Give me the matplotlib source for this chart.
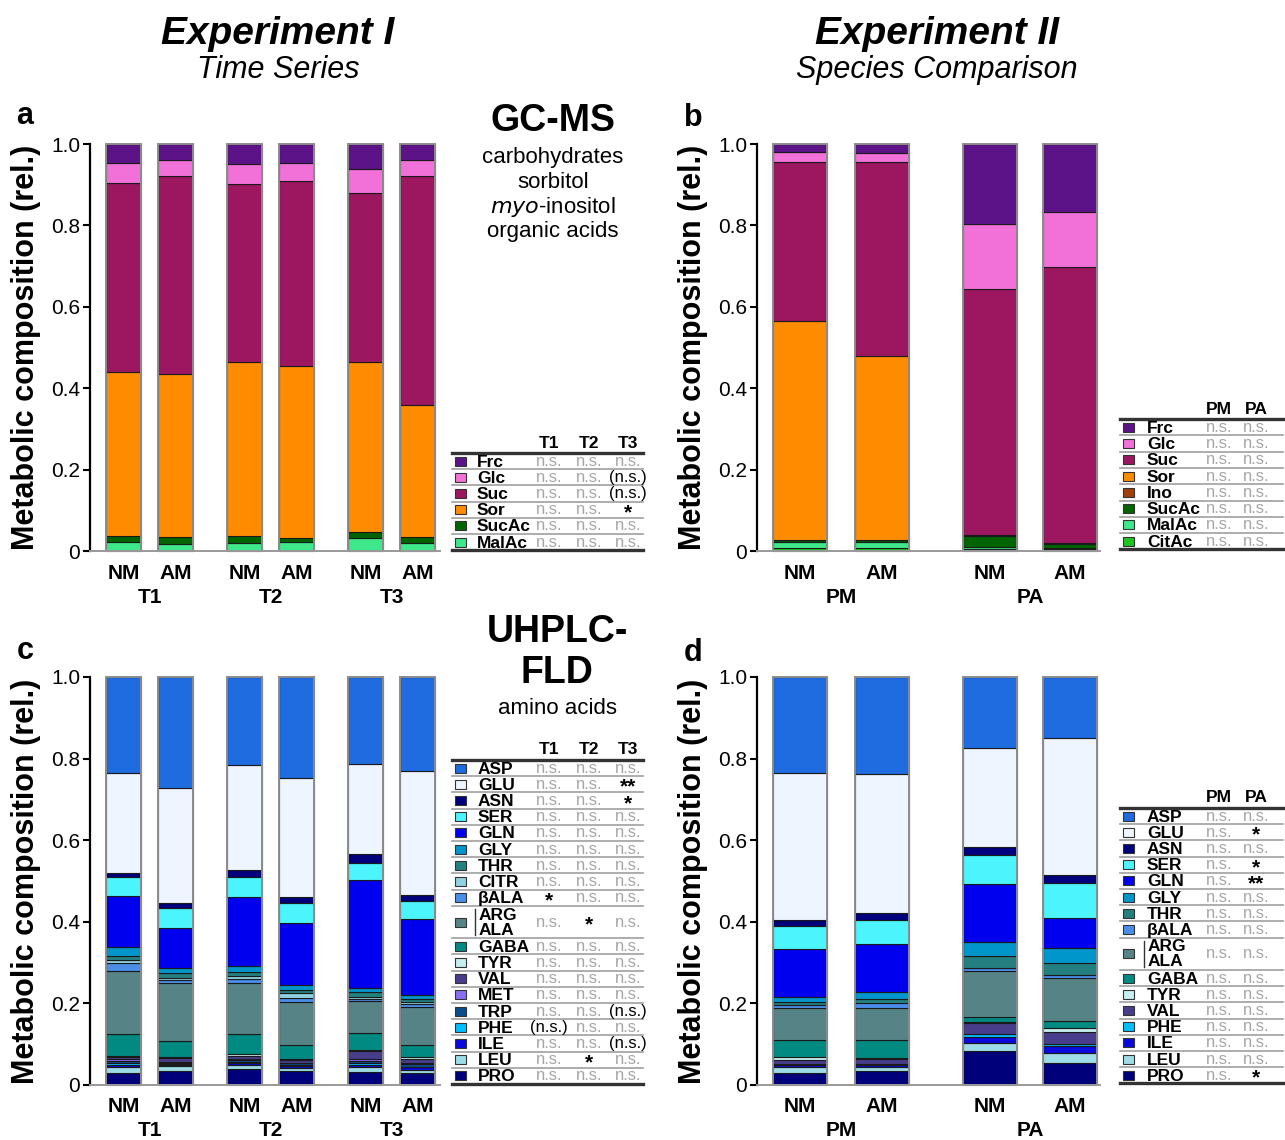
import numpy as np
import matplotlib
matplotlib.use("Agg")
import matplotlib.pyplot as plt
from matplotlib.lines import Line2D
from matplotlib.patches import Rectangle
import matplotlib.transforms as mtransforms

plt.rcParams['font.family'] = ['Liberation Sans', 'DejaVu Sans']

# ---------------- data ----------------
# GC-MS, experiment I (bars: NM/AM at T1, T2, T3), legend order top -> bottom
gc_time_names = ['Frc', 'Glc', 'Suc', 'Sor', 'SucAc', 'MalAc']
gc_time_vals = [
    [0.047, 0.040, 0.050, 0.047, 0.062, 0.040],
    [0.049, 0.039, 0.048, 0.044, 0.058, 0.039],
    [0.464, 0.486, 0.438, 0.454, 0.416, 0.562],
    [0.403, 0.401, 0.427, 0.423, 0.417, 0.325],
    [0.015, 0.017, 0.017, 0.010, 0.015, 0.014],
    [0.022, 0.017, 0.020, 0.022, 0.032, 0.020],
]
gc_time_sig = [
    ['ns', 'ns', 'ns'], ['ns', 'ns', '(ns)'], ['ns', 'ns', '(ns)'],
    ['ns', 'ns', '*'], ['ns', 'ns', 'ns'], ['ns', 'ns', 'ns'],
]

# GC-MS, experiment II (bars: NM/AM for PM, PA)
gc_spec_names = ['Frc', 'Glc', 'Suc', 'Sor', 'Ino', 'SucAc', 'MalAc', 'CitAc']
gc_spec_vals = [
    [0.020, 0.022, 0.197, 0.167],
    [0.024, 0.022, 0.159, 0.135],
    [0.391, 0.477, 0.604, 0.678],
    [0.537, 0.451, 0.001, 0.001],
    [0.001, 0.001, 0.001, 0.001],
    [0.005, 0.005, 0.029, 0.010],
    [0.015, 0.015, 0.003, 0.002],
    [0.007, 0.007, 0.006, 0.006],
]
gc_spec_sig = [['ns', 'ns']] * 8

# UHPLC-FLD, experiment I
aa_time_names = ['ASP', 'GLU', 'ASN', 'SER', 'GLN', 'GLY', 'THR', 'CITR', 'βALA',
                 'ARG/ALA', 'GABA', 'TYR', 'VAL', 'MET', 'TRP', 'PHE', 'ILE', 'LEU', 'PRO']
aa_time_vals = [
    [0.235, 0.273, 0.216, 0.248, 0.213, 0.230],
    [0.245, 0.282, 0.257, 0.292, 0.221, 0.305],
    [0.010, 0.012, 0.017, 0.015, 0.021, 0.013],
    [0.046, 0.047, 0.048, 0.047, 0.043, 0.044],
    [0.125, 0.099, 0.170, 0.152, 0.264, 0.187],
    [0.023, 0.013, 0.014, 0.012, 0.009, 0.010],
    [0.010, 0.011, 0.012, 0.009, 0.013, 0.007],
    [0.008, 0.006, 0.007, 0.011, 0.005, 0.006],
    [0.018, 0.008, 0.008, 0.011, 0.005, 0.008],
    [0.156, 0.140, 0.127, 0.105, 0.079, 0.092],
    [0.053, 0.040, 0.049, 0.035, 0.040, 0.030],
    [0.003, 0.003, 0.003, 0.002, 0.004, 0.004],
    [0.005, 0.009, 0.008, 0.006, 0.020, 0.011],
    [0.004, 0.002, 0.003, 0.002, 0.003, 0.002],
    [0.006, 0.004, 0.005, 0.004, 0.006, 0.006],
    [0.004, 0.002, 0.003, 0.003, 0.006, 0.002],
    [0.006, 0.002, 0.004, 0.004, 0.005, 0.006],
    [0.013, 0.012, 0.011, 0.007, 0.012, 0.007],
    [0.030, 0.035, 0.038, 0.035, 0.031, 0.030],
]
aa_time_sig = [
    ['ns', 'ns', 'ns'], ['ns', 'ns', '**'], ['ns', 'ns', '*'], ['ns', 'ns', 'ns'],
    ['ns', 'ns', 'ns'], ['ns', 'ns', 'ns'], ['ns', 'ns', 'ns'], ['ns', 'ns', 'ns'],
    ['*', 'ns', 'ns'], ['ns', '*', 'ns'], ['ns', 'ns', 'ns'], ['ns', 'ns', 'ns'],
    ['ns', 'ns', 'ns'], ['ns', 'ns', 'ns'], ['ns', 'ns', '(ns)'], ['(ns)', 'ns', 'ns'],
    ['ns', 'ns', '(ns)'], ['ns', '*', 'ns'], ['ns', 'ns', 'ns'],
]

# UHPLC-FLD, experiment II
aa_spec_names = ['ASP', 'GLU', 'ASN', 'SER', 'GLN', 'GLY', 'THR', 'βALA', 'ARG/ALA',
                 'GABA', 'TYR', 'VAL', 'PHE', 'ILE', 'LEU', 'PRO']
aa_spec_vals = [
    [0.235, 0.238, 0.174, 0.149],
    [0.361, 0.340, 0.242, 0.336],
    [0.014, 0.018, 0.021, 0.019],
    [0.057, 0.059, 0.070, 0.087],
    [0.117, 0.116, 0.143, 0.074],
    [0.012, 0.019, 0.035, 0.035],
    [0.009, 0.010, 0.029, 0.030],
    [0.007, 0.012, 0.007, 0.008],
    [0.078, 0.078, 0.112, 0.104],
    [0.042, 0.043, 0.012, 0.019],
    [0.007, 0.004, 0.004, 0.008],
    [0.010, 0.012, 0.026, 0.031],
    [0.002, 0.002, 0.008, 0.004],
    [0.004, 0.004, 0.013, 0.018],
    [0.015, 0.011, 0.020, 0.023],
    [0.030, 0.034, 0.084, 0.055],
]
aa_spec_sig = [
    ['ns', 'ns'], ['ns', '*'], ['ns', 'ns'], ['ns', '*'], ['ns', '**'], ['ns', 'ns'],
    ['ns', 'ns'], ['ns', 'ns'], ['ns', 'ns'], ['ns', 'ns'], ['ns', 'ns'], ['ns', 'ns'],
    ['ns', 'ns'], ['ns', 'ns'], ['ns', 'ns'], ['ns', '*'],
]

time_bars = ['NM', 'AM'] * 3
time_groups = ['T1', 'T2', 'T3']
spec_bars = ['NM', 'AM'] * 2
spec_groups = ['PM', 'PA']

colors = {
    'Frc': '#5d1388', 'Glc': '#f271d8', 'Suc': '#9d1660', 'Sor': '#ff8c00',
    'Ino': '#a0400a', 'SucAc': '#006400', 'MalAc': '#3ee88a', 'CitAc': '#1fc41f',
    'ASP': '#1f6be0', 'GLU': '#eef5ff', 'ASN': '#00007c', 'SER': '#4cf4fd',
    'GLN': '#0000ee', 'GLY': '#0096cc', 'THR': '#248080', 'CITR': '#8fd3e3',
    'βALA': '#4b8eea', 'ARG/ALA': '#568486', 'GABA': '#008a82', 'TYR': '#c6efef',
    'VAL': '#483d8b', 'MET': '#8b6ef4', 'TRP': '#0b4d8c', 'PHE': '#00bfff',
    'ILE': '#0a0adc', 'LEU': '#9edde8', 'PRO': '#00007a',
}

# ---------------- figure ----------------
W, H = 1285, 1140
fig = plt.figure(figsize=(W / 100, H / 100), dpi=100)


def fx(px):
    return px / W


def fy(py):
    return 1 - py / H


time_pos = [0, 1, 2.35, 3.35, 4.7, 5.7]
spec_pos = [0, 1, 2.33, 3.31]


def stacked_panel(rect, pos, width, xlim, names, vals, bar_labels, groups, group_y):
    ax = fig.add_axes(rect)
    bottom = np.zeros(len(pos))
    for name, v in zip(names[::-1], vals[::-1]):
        v = np.array(v)
        ax.bar(pos, v, width, bottom=bottom, color=colors[name], edgecolor='#1a1a1a',
               linewidth=0.8, clip_on=False)
        bottom += v
    ax.bar(pos, bottom, width, fill=False, edgecolor='#8c8c8c', linewidth=1.4, clip_on=False)
    ax.set_xlim(*xlim)
    ax.set_ylim(0, 1)
    ax.set_yticks(np.arange(0, 1.01, 0.2))
    ax.set_yticklabels(['0', '0.2', '0.4', '0.6', '0.8', '1.0'], fontsize=15)
    ax.tick_params(axis='y', length=5, width=1.5, pad=2)
    ax.set_xticks(pos)
    ax.set_xticklabels(bar_labels, fontsize=15, fontweight='bold')
    ax.tick_params(axis='x', length=0, pad=9)
    for s in ['top', 'right']:
        ax.spines[s].set_visible(False)
    ax.spines['left'].set_linewidth(1.6)
    ax.spines['bottom'].set_color('#999999')
    ax.spines['bottom'].set_linewidth(1.4)
    ax.set_ylabel('Metabolic composition (rel.)', fontsize=22, fontweight='bold')
    ax.yaxis.set_label_coords(-0.14 * 350 / (rect[2] * W), 0.5)
    trans = mtransforms.blended_transform_factory(ax.transData, ax.transAxes)
    for i, g in enumerate(groups):
        xc = (pos[2 * i] + pos[2 * i + 1]) / 2
        ax.text(xc, group_y, g, transform=trans, ha='center', va='center',
                fontsize=15, fontweight='bold')
    return ax


def sig_text(x, y, s):
    if s == 'ns':
        fig.text(fx(x), fy(y), 'n.s.', ha='center', va='center', fontsize=12, color='#a6a6a6')
    elif s == '(ns)':
        fig.text(fx(x), fy(y), '(n.s.)', ha='center', va='center', fontsize=12, color='black')
    else:
        fig.text(fx(x), fy(y + 3), s, ha='center', va='center', fontsize=15,
                 fontweight='bold', color='black')


def draw_table(x0, x1, y_line, row_h, names, sig, cols, col_x, sw_x, name_x):
    for c, cx in zip(cols, col_x):
        fig.text(fx(cx), fy(y_line - 10), c, ha='center', va='center',
                 fontsize=12.5, fontweight='bold')
    fig.add_artist(Line2D([fx(x0), fx(x1)], [fy(y_line)] * 2, color='#333333', lw=2.4))
    y = y_line
    for i, name in enumerate(names):
        h = row_h * 2 if name == 'ARG/ALA' else row_h
        yc = y + h / 2
        fig.add_artist(Rectangle((fx(sw_x), fy(yc + 4.5)), fx(11), 9 / H,
                                 facecolor=colors[name], edgecolor='#333333', lw=0.8))
        if name == 'ARG/ALA':
            fig.add_artist(Line2D([fx(name_x - 3)] * 2, [fy(yc - 13), fy(yc + 13)],
                                  color='#333333', lw=1.0))
            fig.text(fx(name_x + 1), fy(yc - 7), 'ARG', ha='left', va='center',
                     fontsize=12.5, fontweight='bold')
            fig.text(fx(name_x + 1), fy(yc + 8), 'ALA', ha='left', va='center',
                     fontsize=12.5, fontweight='bold')
        else:
            fig.text(fx(name_x), fy(yc + 1), name, ha='left', va='center',
                     fontsize=12.5, fontweight='bold')
        for cx, s in zip(col_x, sig[i]):
            sig_text(cx, yc, s)
        y += h
        last = i == len(names) - 1
        fig.add_artist(Line2D([fx(x0), fx(x1)], [fy(y)] * 2,
                              color='#333333' if last else '#a0a0a0',
                              lw=2.4 if last else 1.2))


# panels
stacked_panel([fx(90), fy(551), 350 / W, 407 / H], time_pos, 0.68, (-0.66, 6.14),
              gc_time_names, gc_time_vals, time_bars, time_groups, -0.114)
stacked_panel([fx(757), fy(551), 343 / W, 407 / H], spec_pos, 0.66, (-0.53, 3.68),
              gc_spec_names, gc_spec_vals, spec_bars, spec_groups, -0.114)
stacked_panel([fx(90), fy(1085), 350 / W, 408 / H], time_pos, 0.68, (-0.66, 6.14),
              aa_time_names, aa_time_vals, time_bars, time_groups, -0.112)
stacked_panel([fx(757), fy(1085), 343 / W, 408 / H], spec_pos, 0.66, (-0.53, 3.68),
              aa_spec_names, aa_spec_vals, spec_bars, spec_groups, -0.112)

# tables
draw_table(452, 643, 453, 16.2, gc_time_names, gc_time_sig, time_groups,
           [549, 589, 628], 455, 477)
draw_table(1120, 1283, 419, 16.3, gc_spec_names, gc_spec_sig, spec_groups,
           [1219, 1256], 1123, 1147)
draw_table(452, 643, 760, 16.2, aa_time_names, aa_time_sig, time_groups,
           [549, 589, 628], 455, 478)
draw_table(1120, 1283, 808, 16.2, aa_spec_names, aa_spec_sig, spec_groups,
           [1219, 1256], 1123, 1147)

# headings
fig.text(fx(278), fy(34), 'Experiment I', ha='center', va='center', fontsize=28,
         fontweight='bold', fontstyle='italic')
fig.text(fx(278), fy(70), 'Time Series', ha='center', va='center', fontsize=22,
         fontstyle='italic')
fig.text(fx(937), fy(34), 'Experiment II', ha='center', va='center', fontsize=28,
         fontweight='bold', fontstyle='italic')
fig.text(fx(937), fy(70), 'Species Comparison', ha='center', va='center', fontsize=22,
         fontstyle='italic')

fig.text(fx(553), fy(121), 'GC-MS', ha='center', va='center', fontsize=27, fontweight='bold')
for i, t in enumerate(['carbohydrates', 'sorbitol', None, 'organic acids']):
    if t:
        fig.text(fx(553), fy(157 + 25 * i), t, ha='center', va='center', fontsize=16)
fig.text(fx(553), fy(207), r'$\it{myo}$-inositol', ha='center', va='center', fontsize=16)

fig.text(fx(557), fy(632), 'UHPLC-', ha='center', va='center', fontsize=27, fontweight='bold')
fig.text(fx(557), fy(673), 'FLD', ha='center', va='center', fontsize=27, fontweight='bold')
fig.text(fx(557), fy(708), 'amino acids', ha='center', va='center', fontsize=16)

for lab, x, y in [('a', 25, 116), ('b', 693, 118), ('c', 25, 651), ('d', 693, 653)]:
    fig.text(fx(x), fy(y), lab, ha='center', va='center', fontsize=22, fontweight='bold')

fig.savefig('out.png', dpi=100)
